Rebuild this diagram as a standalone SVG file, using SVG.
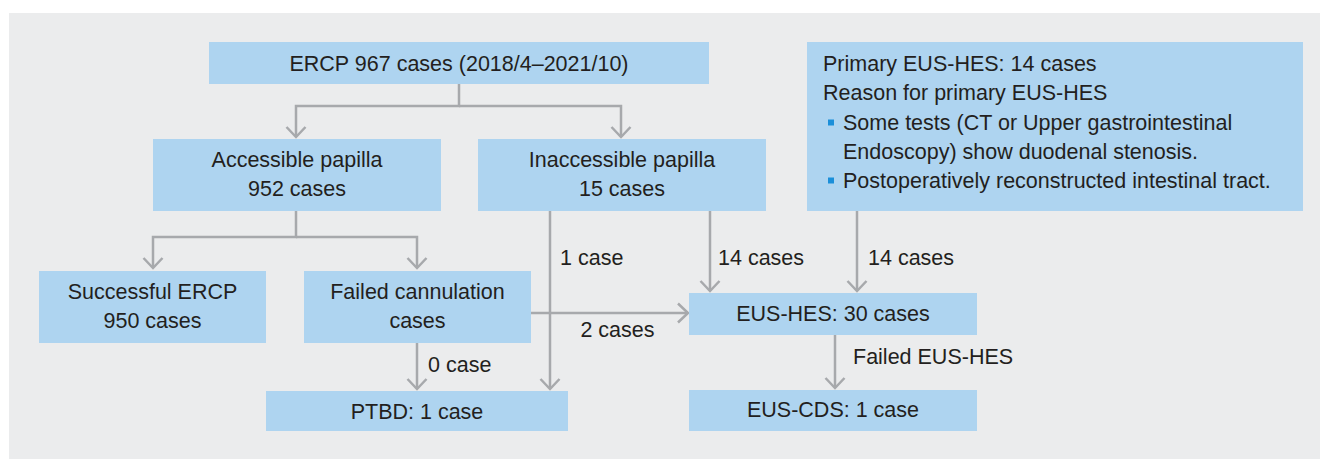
<svg xmlns="http://www.w3.org/2000/svg" width="1320" height="459" viewBox="0 0 1320 459">
<defs>
<style>
.box{fill:#aed4f0;}
.t{font-family:"Liberation Sans",Arial,sans-serif;font-size:21.5px;fill:#231f20;}
.c{text-anchor:middle;}
.ln{fill:none;stroke:#a7a9ac;stroke-width:2.5;}
.bul{fill:#1b8fd9;}
</style>
<marker id="ah" viewBox="0 0 22 22" refX="20" refY="11" markerWidth="22" markerHeight="22" markerUnits="userSpaceOnUse" orient="auto">
<path d="M10,1.5 L20,11 L10,20.5" fill="none" stroke="#a7a9ac" stroke-width="2.5"/>
</marker>
</defs>
<rect x="9" y="13" width="1311" height="446" fill="#ebeced"/>
<g id="connectors">
<path class="ln" d="M459,84 V106 H296 V137" marker-end="url(#ah)"/>
<path class="ln" d="M459,106 H621 V137" marker-end="url(#ah)"/>
<path class="ln" d="M296,211 V237 H153 V268" marker-end="url(#ah)"/>
<path class="ln" d="M296,237 H417 V268" marker-end="url(#ah)"/>
<path class="ln" d="M550,211 V389" marker-end="url(#ah)"/>
<path class="ln" d="M417,343 V389" marker-end="url(#ah)"/>
<path class="ln" d="M710,211 V291" marker-end="url(#ah)"/>
<path class="ln" d="M857,211 V291" marker-end="url(#ah)"/>
<path class="ln" d="M531,313 H688" marker-end="url(#ah)"/>
<path class="ln" d="M835,335 V388" marker-end="url(#ah)"/>
<text class="t" x="560" y="264.5">1 case</text>
<text class="t" x="718" y="265">14 cases</text>
<text class="t" x="868" y="265">14 cases</text>
<text class="t c" x="617.5" y="336.5">2 cases</text>
<text class="t" x="428" y="371.5">0 case</text>
<text class="t" x="853" y="364">Failed EUS-HES</text>
</g>
<g id="ercp">
<rect class="box" x="209" y="42" width="500" height="42"/>
<text class="t c" x="459" y="70.5">ERCP 967 cases (2018/4–2021/10)</text>
</g>
<g id="accessible">
<rect class="box" x="153" y="139" width="288" height="72"/>
<text class="t c" x="297" y="166.5">Accessible papilla</text>
<text class="t c" x="297" y="195.5">952 cases</text>
</g>
<g id="inaccessible">
<rect class="box" x="478" y="139" width="288" height="72"/>
<text class="t c" x="622" y="166.5">Inaccessible papilla</text>
<text class="t c" x="622" y="195.5">15 cases</text>
</g>
<g id="primary">
<rect class="box" x="807" y="42" width="496" height="169"/>
<text class="t" x="823" y="70.5">Primary EUS-HES: 14 cases</text>
<text class="t" x="823" y="99.5">Reason for primary EUS-HES</text>
<rect class="bul" x="828" y="119.5" width="6" height="6"/>
<text class="t" x="843" y="129.5">Some tests (CT or Upper gastrointestinal</text>
<text class="t" x="843" y="158.5">Endoscopy) show duodenal stenosis.</text>
<rect class="bul" x="828" y="177.5" width="6" height="6"/>
<text class="t" x="843" y="187.5">Postoperatively reconstructed intestinal tract.</text>
</g>
<g id="successful">
<rect class="box" x="39" y="271" width="227" height="72"/>
<text class="t c" x="152.5" y="299">Successful ERCP</text>
<text class="t c" x="152.5" y="328">950 cases</text>
</g>
<g id="failed">
<rect class="box" x="304" y="271" width="227" height="72"/>
<text class="t c" x="417.5" y="299">Failed cannulation</text>
<text class="t c" x="417.5" y="328">cases</text>
</g>
<g id="ptbd">
<rect class="box" x="266" y="391" width="302" height="40"/>
<text class="t c" x="417" y="419">PTBD: 1 case</text>
</g>
<g id="eushes">
<rect class="box" x="689" y="293" width="288" height="42"/>
<text class="t c" x="833" y="320.5">EUS-HES: 30 cases</text>
</g>
<g id="euscds">
<rect class="box" x="689" y="390" width="288" height="41"/>
<text class="t c" x="833" y="417">EUS-CDS: 1 case</text>
</g>
</svg>
